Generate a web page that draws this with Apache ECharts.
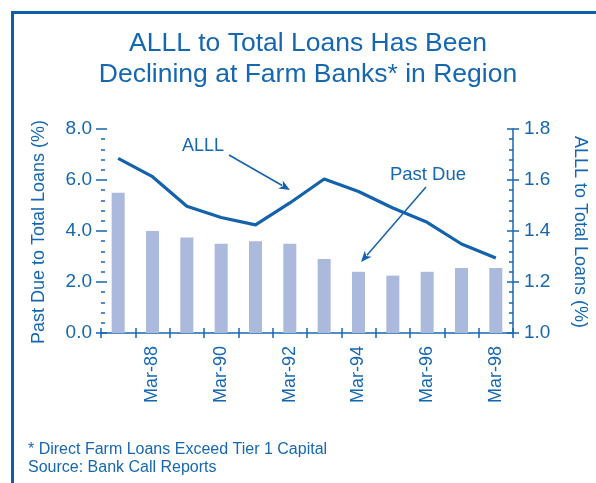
<!DOCTYPE html>
<html>
<head>
<meta charset="utf-8">
<script src="https://cdn.jsdelivr.net/npm/echarts@6/dist/echarts.min.js"></script>
<style>html,body{margin:0;padding:0;background:#fff;}#c{width:596px;height:483px;}</style>
</head>
<body>
<div id="c"></div>
<script>
var categories = ['Mar-87','Mar-88','Mar-89','Mar-90','Mar-91','Mar-92','Mar-93','Mar-94','Mar-95','Mar-96','Mar-97','Mar-98'];
var pastDue = [5.5, 4.0, 3.75, 3.5, 3.6, 3.5, 2.9, 2.4, 2.25, 2.4, 2.55, 2.55];
var alll = [1.685, 1.613, 1.497, 1.453, 1.424, 1.51, 1.604, 1.555, 1.49, 1.434, 1.349, 1.294];
var leftTicks = [0, 2, 4, 6, 8];
var rightTicks = [1.0, 1.2, 1.4, 1.6, 1.8];

var BLUE = '#1667b1';
var LINE = '#1462ab';
var BAR = '#aab9dc';
var FONT = 'Liberation Sans';

function arrow(x1, y1, x2, y2) {
  var dx = x2 - x1, dy = y2 - y1, L = Math.sqrt(dx*dx + dy*dy);
  var ux = dx / L, uy = dy / L, hl = 11, hw = 4.5;
  var bx = x2 - ux * hl, by = y2 - uy * hl;
  return [
    {type: 'line', shape: {x1: x1, y1: y1, x2: bx + ux*2, y2: by + uy*2}, style: {stroke: LINE, lineWidth: 1.5}},
    {type: 'polygon', shape: {points: [[x2, y2], [bx - uy*hw, by + ux*hw], [bx + ux*3, by + uy*3], [bx + uy*hw, by - ux*hw]]}, style: {fill: LINE}}
  ];
}

var chart = echarts.init(document.getElementById('c'));
var g = [
  {type: 'rect', shape: {x: 12.5, y: 12.5, width: 700, height: 600}, style: {fill: null, stroke: '#0b5fad', lineWidth: 3}},
  {type: 'text', x: 39, y: 232, rotation: Math.PI/2, style: {text: 'Past Due to Total Loans (%)', fill: BLUE, font: '18px "Liberation Sans"', textAlign: 'center', textVerticalAlign: 'middle'}},
  {type: 'text', x: 580, y: 232, rotation: -Math.PI/2, style: {text: 'ALLL to Total Loans (%)', fill: BLUE, font: '18px "Liberation Sans"', textAlign: 'center', textVerticalAlign: 'middle'}},
  {type: 'text', x: 203, y: 146, style: {text: 'ALLL', fill: BLUE, font: '18px "Liberation Sans"', textAlign: 'center', textVerticalAlign: 'middle'}},
  {type: 'text', x: 428, y: 175, style: {text: 'Past Due', fill: BLUE, font: '18.5px "Liberation Sans"', textAlign: 'center', textVerticalAlign: 'middle'}},
  {type: 'text', x: 28, y: 450, style: {text: '* Direct Farm Loans Exceed Tier 1 Capital', fill: BLUE, font: '16px "Liberation Sans"', textVerticalAlign: 'middle'}},
  {type: 'text', x: 28, y: 468, style: {text: 'Source: Bank Call Reports', fill: BLUE, font: '16px "Liberation Sans"', textVerticalAlign: 'middle'}}
].concat(arrow(229, 155, 290, 190)).concat(arrow(426, 187, 361, 262));

var option = {
  animation: false,
  backgroundColor: '#fff',
  title: {
    text: 'ALLL to Total Loans Has Been\nDeclining at Farm Banks* in Region',
    left: 303, top: 23, textAlign: 'center',
    textStyle: {color: BLUE, fontFamily: FONT, fontSize: 26.5, fontWeight: 'normal', lineHeight: 31}
  },
  grid: {left: 101, right: 83, top: 129, bottom: 150, containLabel: false},
  xAxis: [
    {type: 'category', data: categories, boundaryGap: true,
     axisLine: {show: true, lineStyle: {color: BLUE, width: 1.5}},
     axisTick: {show: true, interval: 0, inside: false, length: 5, lineStyle: {color: BLUE, width: 1.5}},
     axisLabel: {interval: function(i){ return i % 2 === 1; }, rotate: 90, margin: 13, color: BLUE, fontFamily: FONT, fontSize: 18},
     splitLine: {show: false}},
    {type: 'category', data: categories, position: 'bottom', boundaryGap: true,
     axisLine: {show: false}, axisLabel: {show: false},
     axisTick: {show: true, interval: 0, inside: true, length: 5, lineStyle: {color: BLUE, width: 1.5}}},
    {type: 'category', data: categories, position: 'bottom', boundaryGap: true,
     axisLine: {show: false}, axisLabel: {show: false},
     axisTick: {show: true, interval: 0, alignWithLabel: true, inside: true, length: 4, lineStyle: {color: BLUE, width: 1.5}}}
  ],
  yAxis: [
    {type: 'value', min: leftTicks[0], max: leftTicks[leftTicks.length-1], interval: 2, position: 'left',
     axisLine: {show: false},
     axisTick: {show: true, inside: false, length: 5, lineStyle: {color: BLUE, width: 1.5}},
     axisLabel: {color: BLUE, fontFamily: FONT, fontSize: 19, margin: 9, formatter: function(v){ return v.toFixed(1); }},
     splitLine: {show: false}},
    {type: 'value', min: rightTicks[0], max: rightTicks[rightTicks.length-1], interval: 0.2, position: 'right',
     axisLine: {show: true, lineStyle: {color: BLUE, width: 1.5}},
     axisTick: {show: true, inside: false, length: 6, lineStyle: {color: BLUE, width: 1.5}},
     axisLabel: {color: BLUE, fontFamily: FONT, fontSize: 19, margin: 11, formatter: function(v){ return v.toFixed(1); }},
     splitLine: {show: false}},
    {type: 'value', min: 0, max: 8, interval: 2, position: 'left',
     axisLine: {show: false}, axisLabel: {show: false}, splitLine: {show: false},
     axisTick: {show: true, inside: true, length: 6, lineStyle: {color: BLUE, width: 1.5}},
     minorTick: {show: true, splitNumber: 5, length: 4, lineStyle: {color: BLUE, width: 1.5}}},
    {type: 'value', min: 1.0, max: 1.8, interval: 0.2, position: 'right',
     axisLine: {show: false}, axisLabel: {show: false}, splitLine: {show: false},
     axisTick: {show: true, inside: true, length: 6, lineStyle: {color: BLUE, width: 1.5}},
     minorTick: {show: true, splitNumber: 5, length: 4, lineStyle: {color: BLUE, width: 1.5}}}
  ],
  series: [
    {type: 'bar', name: 'Past Due', data: pastDue, xAxisIndex: 0, yAxisIndex: 0, barWidth: 13, itemStyle: {color: BAR}, z: 1},
    {type: 'line', name: 'ALLL', data: alll, xAxisIndex: 0, yAxisIndex: 1, symbol: 'none', lineStyle: {color: LINE, width: 3.2}, z: 3}
  ],
  graphic: g
};
chart.setOption(option);
</script>
</body>
</html>
